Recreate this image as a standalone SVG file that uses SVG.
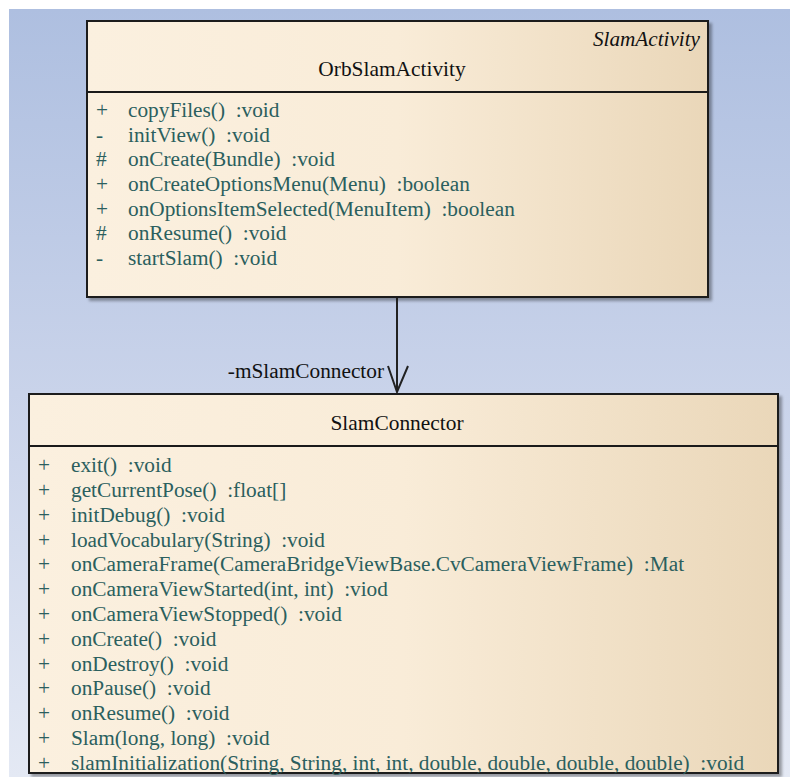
<svg xmlns="http://www.w3.org/2000/svg" width="790" height="777" viewBox="0 0 790 777">
<defs>
<linearGradient id="bg" x1="0" y1="0" x2="0" y2="1">
<stop offset="0" stop-color="#aebfe0"/>
<stop offset="0.5" stop-color="#c9d3ea"/>
<stop offset="1" stop-color="#e4e9f4"/>
</linearGradient>
<linearGradient id="box" x1="0" y1="0" x2="1" y2="0">
<stop offset="0" stop-color="#fbf0df"/>
<stop offset="0.5" stop-color="#f9ecd8"/>
<stop offset="1" stop-color="#ead7b9"/>
</linearGradient>
<filter id="sh" x="-5%" y="-5%" width="110%" height="110%">
<feGaussianBlur in="SourceAlpha" stdDeviation="1.5"/>
<feOffset dx="3" dy="3"/>
<feComponentTransfer><feFuncA type="linear" slope="0.35"/></feComponentTransfer>
<feMerge><feMergeNode/><feMergeNode in="SourceGraphic"/></feMerge>
</filter>
</defs>
<style>
.frame{fill:url(#box);stroke:#1a1a1a;stroke-width:2}
.sep{stroke:#1a1a1a;stroke-width:2}
text{font-family:"Liberation Serif","Times New Roman",serif}
.title{font-size:21.4px;fill:#111;text-anchor:middle}
.stereo{font-size:21.2px;font-style:italic;fill:#111;text-anchor:end}
.m{font-size:21.3px;fill:#2b5f5e;white-space:pre}
.lbl{font-size:21.3px;fill:#111;text-anchor:end}
.conn{stroke:#222;stroke-width:2;fill:none}
</style>
<rect x="0" y="0" width="790" height="777" fill="#ffffff"/>
<rect x="9" y="9" width="781" height="768" fill="url(#bg)"/>

<g id="OrbSlamActivity">
<rect class="frame" x="87" y="21" width="621" height="276" filter="url(#sh)"/>
<line class="sep" x1="87" y1="92" x2="708" y2="92"/>
<text class="stereo" x="700" y="46">SlamActivity</text>
<text class="title" x="392" y="76">OrbSlamActivity</text>
<text class="m" x="96" y="117">+</text><text class="m" x="128" y="117">copyFiles()  :void</text>
<text class="m" x="96" y="142">-</text><text class="m" x="128" y="142">initView()  :void</text>
<text class="m" x="96" y="166">#</text><text class="m" x="128" y="166">onCreate(Bundle)  :void</text>
<text class="m" x="96" y="191">+</text><text class="m" x="128" y="191">onCreateOptionsMenu(Menu)  :boolean</text>
<text class="m" x="96" y="216">+</text><text class="m" x="128" y="216">onOptionsItemSelected(MenuItem)  :boolean</text>
<text class="m" x="96" y="240">#</text><text class="m" x="128" y="240">onResume()  :void</text>
<text class="m" x="96" y="265">-</text><text class="m" x="128" y="265">startSlam()  :void</text>
</g>

<g id="SlamConnector">
<rect class="frame" x="29" y="394" width="749" height="379" filter="url(#sh)"/>
<line class="sep" x1="29" y1="446" x2="778" y2="446"/>
<text class="title" x="397" y="430">SlamConnector</text>
<text class="m" x="38" y="472">+</text><text class="m" x="71" y="472">exit()  :void</text>
<text class="m" x="38" y="497">+</text><text class="m" x="71" y="497">getCurrentPose()  :float[]</text>
<text class="m" x="38" y="522">+</text><text class="m" x="71" y="522">initDebug()  :void</text>
<text class="m" x="38" y="547">+</text><text class="m" x="71" y="547">loadVocabulary(String)  :void</text>
<text class="m" x="38" y="571">+</text><text class="m" x="71" y="571">onCameraFrame(CameraBridgeViewBase.CvCameraViewFrame)  :Mat</text>
<text class="m" x="38" y="596">+</text><text class="m" x="71" y="596">onCameraViewStarted(int, int)  :viod</text>
<text class="m" x="38" y="621">+</text><text class="m" x="71" y="621">onCameraViewStopped()  :void</text>
<text class="m" x="38" y="646">+</text><text class="m" x="71" y="646">onCreate()  :void</text>
<text class="m" x="38" y="671">+</text><text class="m" x="71" y="671">onDestroy()  :void</text>
<text class="m" x="38" y="695">+</text><text class="m" x="71" y="695">onPause()  :void</text>
<text class="m" x="38" y="720">+</text><text class="m" x="71" y="720">onResume()  :void</text>
<text class="m" x="38" y="745">+</text><text class="m" x="71" y="745">Slam(long, long)  :void</text>
<text class="m" x="38" y="770">+</text><text class="m" x="71" y="770">slamInitialization(String, String, int, int, double, double, double, double)  :void</text>
</g>

<g id="connectors">
<line class="conn" x1="397" y1="298" x2="397" y2="392"/>
<polyline class="conn" points="388,366 397,392 408,366"/>
<text class="lbl" x="384" y="378">-mSlamConnector</text>
</g>
</svg>
